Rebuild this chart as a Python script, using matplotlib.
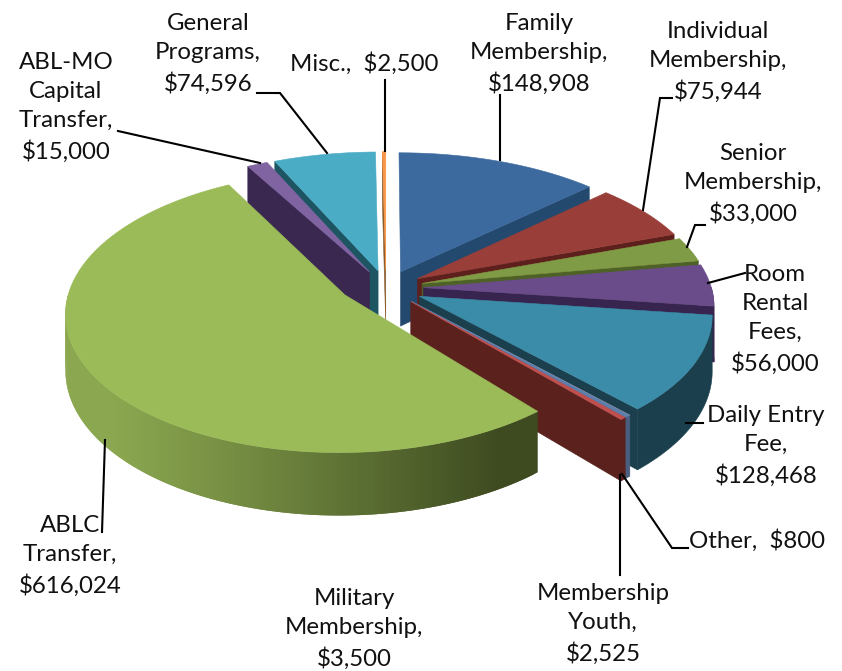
import numpy as np
import matplotlib
matplotlib.use('Agg')
import matplotlib.pyplot as plt
from matplotlib.colors import to_rgb

plt.rcParams['font.family'] = ['Lato', 'DejaVu Sans']

# revenue by source, clockwise from 12 o'clock
sources = ['Family Membership', 'Individual Membership', 'Senior Membership',
           'Room Rental Fees', 'Daily Entry Fee', 'Other', 'Membership Youth',
           'Military Membership', 'ABLC Transfer', 'ABL-MO Capital Transfer',
           'General Programs', 'Misc.']
amounts = [148908, 75944, 33000, 56000, 128468, 800, 2525, 3500, 616024, 15000, 74596, 2500]

top_colors = ['#3D6A9E', '#9A3E39', '#7F9B45', '#6A4C8B', '#3B8CA8', '#7F8FA9',
              '#5B7FAE', '#C0504D', '#9BBB59', '#8064A2', '#4BACC6', '#F79646']
wall_colors = ['#24496F', '#5E201C', '#4E6127', '#37244F', '#1B3F4C', '#4A5E80',
               '#4A5E80', '#5A211D', '#6F8A3E', '#3A2850', '#1D5563', '#8A5A2A']

# painter's order, far slices first
draw_order = [10, 11, 0, 9, 1, 2, 3, 4, 5, 6, 7, 8]

CX, CY = 386, 288
RX, RY = 288, 137
PERSP = 0.12
DEPTH = 55
EXPLODE = 0.13
# the big slice sits a little further out and reads narrower
BIG_ORIGIN = (-0.142, -0.05)
BIG_WIDTH = 0.955


def project(x, y, z=0.0):
    """Map pie-plane coordinates to pixels, z=1 is the bottom of the pie"""
    s = 1 / (1 + PERSP * y)
    return CX + RX * x * s, CY - RY * y * s + z * DEPTH * s


def radial(ang):
    return np.sin(np.radians(ang)), np.cos(np.radians(ang))


def draw_cut_face(ax, origin, ang, width, color, zorder):
    ux, uy = radial(ang)
    ox, oy = origin
    ux = ux * width
    xs = [project(ox, oy, z)[0] for z in (0, 1)] + [project(ox + ux, oy + uy, z)[0] for z in (1, 0)]
    ys = [project(ox, oy, z)[1] for z in (0, 1)] + [project(ox + ux, oy + uy, z)[1] for z in (1, 0)]
    ax.fill(xs, ys, color=color, lw=0.4, zorder=zorder)


def draw_outer_wall(ax, origin, a0, a1, width, color, zorder, shade=None):
    lo, hi = max(a0, 90), min(a1, 270)
    if hi <= lo:
        return
    ox, oy = origin
    if shade is None:
        ang = np.linspace(lo, hi, max(int(hi - lo) * 2, 3))
        ux, uy = radial(ang)
        xt, yt = project(ox + ux * width, oy + uy, 0)
        xb, yb = project(ox + ux * width, oy + uy, 1)
        ax.fill(np.r_[xt, xb[::-1]], np.r_[yt, yb[::-1]], color=color, lw=0.4, zorder=zorder)
        return
    # shaded wall: overlapping strips, running from the lit end to the dark end
    edges = np.arange(lo, hi, 1.0)
    for t0 in edges[::-1]:
        ang = np.array([t0, min(t0 + 2.0, hi)])
        ux, uy = radial(ang)
        xt, yt = project(ox + ux * width, oy + uy, 0)
        xb, yb = project(ox + ux * width, oy + uy, 1)
        f = (xt.mean() - shade[2]) / (shade[3] - shade[2])
        f = np.clip(f, 0, 1) ** 1.1
        c = np.array(shade[0]) * (1 - f) + np.array(shade[1]) * f
        ax.fill(np.r_[xt, xb[::-1]], np.r_[yt, yb[::-1]], color=tuple(c), lw=0, zorder=zorder)


def draw_pie(ax):
    total = sum(amounts)
    stops = np.r_[0, np.cumsum(amounts)] / total * 360
    for n, i in enumerate(draw_order):
        a0, a1 = stops[i], stops[i + 1]
        big = sources[i] == 'ABLC Transfer'
        mx, my = radial((a0 + a1) / 2)
        origin = BIG_ORIGIN if big else (EXPLODE * mx, EXPLODE * my)
        width = BIG_WIDTH if big else 1.0
        z = 2 + n
        # only faces turned towards the viewer get drawn
        if a1 < 180:
            draw_cut_face(ax, origin, a1, width, wall_colors[i], z)
        if a0 > 180:
            draw_cut_face(ax, origin, a0, width, wall_colors[i], z)
        shade = None
        if big:
            shade = (to_rgb('#8BA850'), to_rgb('#3E4B20'), 110, 500)
        draw_outer_wall(ax, origin, a0, a1, width, wall_colors[i], z, shade)

        ang = np.linspace(a0, a1, max(int(a1 - a0) * 2, 3))
        ux, uy = radial(ang)
        xs, ys = project(origin[0] + ux * width, origin[1] + uy)
        ax_x, ax_y = project(*origin)
        ax.fill(np.r_[ax_x, xs], np.r_[ax_y, ys], color=top_colors[i], lw=0.4, zorder=z)


def draw_labels(ax):
    labels = [
        ('General\nPrograms,\n$74,596', 208, 54),
        ('ABL-MO\nCapital\nTransfer,\n$15,000', 66, 107),
        ('Misc.,  $2,500', 364, 64),
        ('Family\nMembership,\n$148,908', 539, 54),
        ('Individual\nMembership,\n$75,944', 718, 62),
        ('Senior\nMembership,\n$33,000', 753, 184),
        ('Room\nRental\nFees,\n$56,000', 775, 319),
        ('Daily Entry\nFee,\n$128,468', 766, 446),
        ('Other,  $800', 757, 541),
        ('Membership\nYouth,\n$2,525', 603, 624),
        ('Military\nMembership,\n$3,500', 354, 629),
        ('ABLC\nTransfer,\n$616,024', 70, 556),
    ]
    for text, x, y in labels:
        ax.text(x, y, text, ha='center', va='center', fontsize=17.3, color='#111111',
                linespacing=1.48, zorder=40)

    leaders = [
        ([500, 500], [95, 160]),
        ([672, 660, 643], [98, 98, 210]),
        ([705, 695, 687], [225, 225, 247]),
        ([708, 745], [283, 273]),
        ([703, 686], [423, 423]),
        ([688, 672, 622], [548, 548, 474]),
        ([620, 620], [475, 575]),
        ([105, 102], [440, 532]),
        ([118, 260], [131, 163]),
        ([257, 280, 327], [93, 93, 153]),
        ([385, 385], [80, 151]),
    ]
    for xs, ys in leaders:
        ax.plot(xs, ys, color='black', lw=1.5, zorder=30, solid_joinstyle='miter')


fig = plt.figure(figsize=(8.42, 6.71), dpi=100)
ax = fig.add_axes([0, 0, 1, 1])
ax.set_xlim(0, 842)
ax.set_ylim(671, 0)
ax.axis('off')

draw_pie(ax)
draw_labels(ax)

fig.savefig('out.png', dpi=100)
